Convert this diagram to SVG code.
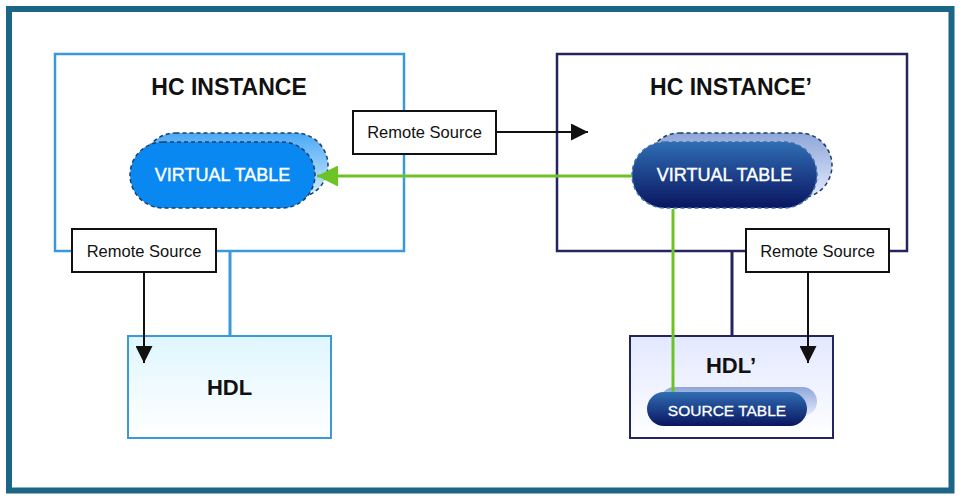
<svg xmlns="http://www.w3.org/2000/svg" width="962" height="500" viewBox="0 0 962 500">
<defs>
<linearGradient id="gBackL" x1="0" y1="0" x2="0" y2="1"><stop offset="0" stop-color="#4aa8f5"/><stop offset="1" stop-color="#d6eeff"/></linearGradient>
<linearGradient id="gBackR" x1="0" y1="0" x2="0" y2="1"><stop offset="0" stop-color="#8ea6d8"/><stop offset="1" stop-color="#e4eaff"/></linearGradient>
<linearGradient id="gFrontR" x1="0" y1="0" x2="0" y2="1"><stop offset="0" stop-color="#2f6db3"/><stop offset="1" stop-color="#0a1560"/></linearGradient>
<linearGradient id="gHDL" x1="0" y1="0" x2="0" y2="1"><stop offset="0" stop-color="#dff6ff"/><stop offset="1" stop-color="#ffffff"/></linearGradient>
<linearGradient id="gHDL2" x1="0" y1="0" x2="0" y2="1"><stop offset="0" stop-color="#e2e8ff"/><stop offset="1" stop-color="#ffffff"/></linearGradient>
<marker id="ab" viewBox="0 0 10 10" refX="10" refY="5" markerWidth="17" markerHeight="17" markerUnits="userSpaceOnUse" orient="auto"><path d="M0,0 L10,5 L0,10 Z" fill="#111"/></marker>
<marker id="ag" viewBox="0 0 10 10" refX="10" refY="5" markerWidth="21" markerHeight="21" markerUnits="userSpaceOnUse" orient="auto"><path d="M0,0 L10,5 L0,10 Z" fill="#6cc424"/></marker>
</defs>
<style>
.title{font-family:"Liberation Sans",Arial,sans-serif;font-weight:bold;font-size:23px;fill:#111;text-anchor:middle}
.hdl{font-family:"Liberation Sans",Arial,sans-serif;font-weight:bold;font-size:22px;fill:#111;text-anchor:middle}
.vt{font-family:"Liberation Sans",Arial,sans-serif;font-size:18px;fill:#fff;text-anchor:middle;stroke:#fff;stroke-width:0.4}
.st{font-family:"Liberation Sans",Arial,sans-serif;font-size:15.5px;fill:#fff;text-anchor:middle;stroke:#fff;stroke-width:0.3}
.rs{font-family:"Liberation Sans",Arial,sans-serif;font-size:16.5px;fill:#111;text-anchor:middle}
.rsbox{fill:#fff;stroke:#111;stroke-width:2}
.dash{stroke:#1d3f66;stroke-width:1.5;stroke-dasharray:4 3}
</style>
<rect x="0" y="0" width="962" height="500" fill="#fff"/>
<rect x="9" y="9" width="942.5" height="481.5" fill="none" stroke="#1b6585" stroke-width="6"/>

<g id="hc-instance">
<rect x="55" y="54" width="349" height="197" fill="none" stroke="#3a9ad9" stroke-width="2.5"/>
<text class="title" x="229" y="95">HC INSTANCE</text>
</g>

<g id="hc-instance-prime">
<rect x="557" y="54" width="350" height="197" fill="none" stroke="#24245e" stroke-width="2.5"/>
<text class="title" x="731" y="95">HC INSTANCE’</text>
</g>

<g id="virtual-table-left">
<rect x="143" y="133" width="185" height="65" rx="32.5" fill="url(#gBackL)" class="dash"/>
<rect x="130" y="142" width="185" height="66" rx="33" fill="#0a88f2" class="dash"/>
<text class="vt" x="222.5" y="181">VIRTUAL TABLE</text>
</g>

<g id="virtual-table-right">
<rect x="647" y="133" width="185" height="65" rx="32.5" fill="url(#gBackR)" class="dash"/>
<rect x="632" y="142" width="185" height="66" rx="33" fill="url(#gFrontR)" stroke="#3b6ea8" stroke-width="1.5" stroke-dasharray="4 3"/>
<text class="vt" x="724.5" y="181">VIRTUAL TABLE</text>
</g>

<g id="remote-source-top">
<rect class="rsbox" x="353" y="111" width="143" height="43"/>
<text class="rs" x="424.5" y="138">Remote Source</text>
</g>

<g id="remote-source-left">
<rect class="rsbox" x="72" y="229" width="144" height="43"/>
<text class="rs" x="144" y="257">Remote Source</text>
</g>

<g id="remote-source-right">
<rect class="rsbox" x="746" y="229" width="143" height="43"/>
<text class="rs" x="817.5" y="257">Remote Source</text>
</g>

<g id="hdl">
<rect x="128" y="336" width="203" height="102" fill="url(#gHDL)" stroke="#3a9ad9" stroke-width="2"/>
<text class="hdl" x="229.5" y="395">HDL</text>
</g>

<g id="hdl-prime">
<rect x="630" y="336" width="203" height="102" fill="url(#gHDL2)" stroke="#24245e" stroke-width="2"/>
<text class="hdl" x="731" y="373">HDL’</text>
<g id="source-table">
<rect x="660" y="387" width="157" height="29" rx="14.5" fill="url(#gBackR)"/>
<rect x="647" y="392" width="160" height="34" rx="17" fill="url(#gFrontR)"/>
<text class="st" x="727" y="416">SOURCE TABLE</text>
</g>
</g>

<g id="connectors">
<line x1="230" y1="252" x2="230" y2="335" stroke="#3a9ad9" stroke-width="3"/>
<line x1="732" y1="252" x2="732" y2="335" stroke="#24245e" stroke-width="3"/>
<line x1="144" y1="273" x2="144" y2="363" stroke="#111" stroke-width="2" marker-end="url(#ab)"/>
<line x1="808" y1="273" x2="808" y2="363" stroke="#111" stroke-width="2" marker-end="url(#ab)"/>
<line x1="497" y1="132" x2="588" y2="132" stroke="#111" stroke-width="2" marker-end="url(#ab)"/>
<line x1="673" y1="209" x2="673" y2="392" stroke="#6cc424" stroke-width="3"/>
<line x1="632" y1="176" x2="317" y2="176" stroke="#6cc424" stroke-width="3" marker-end="url(#ag)"/>
</g>
</svg>
